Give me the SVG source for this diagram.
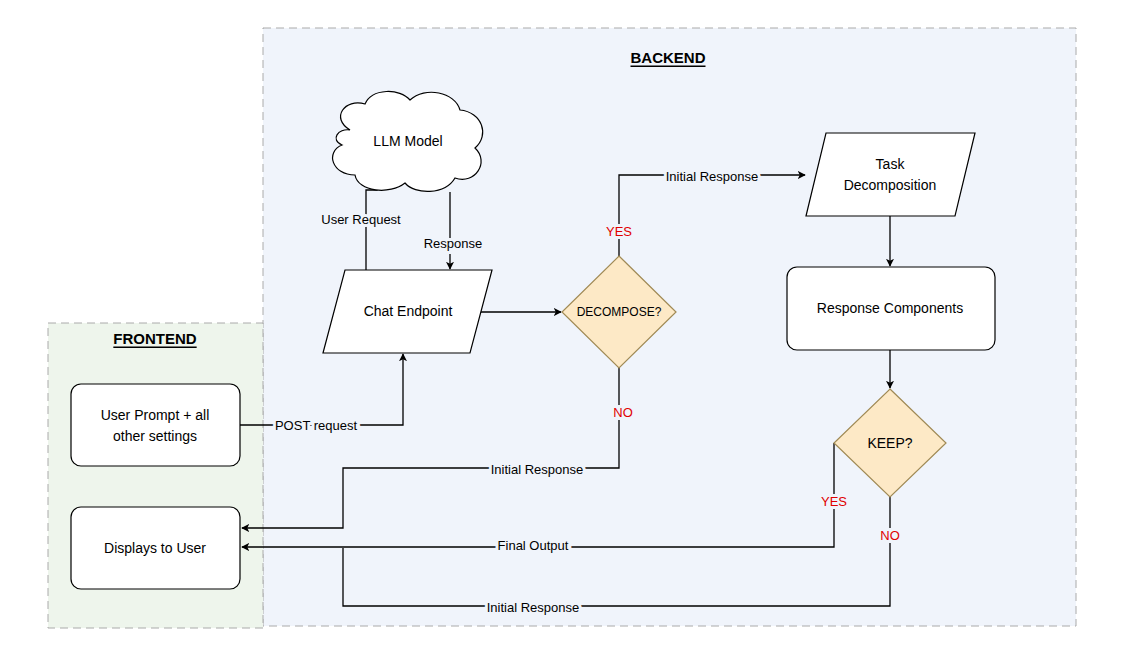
<svg xmlns="http://www.w3.org/2000/svg" width="1122" height="665" viewBox="0 0 1122 665">
<style>
text{font-family:"Liberation Sans",Arial,sans-serif;font-size:14px;fill:#000;text-anchor:middle;dominant-baseline:central}
.t{font-weight:bold;text-decoration:underline;font-size:15px}
.red{fill:#e00000}
.lbl{font-size:13px}
.node{fill:#fff;stroke:#000;stroke-width:1.2}
.dia{fill:#fde9c6;stroke:#a08a55;stroke-width:1.2}
.c{fill:none;stroke:#000;stroke-width:1.3;marker-end:url(#a)}
.cn{fill:none;stroke:#000;stroke-width:1.3}
.bg{fill:#fff}
</style>
<defs><marker id="a" viewBox="0 0 10 10" refX="9" refY="5" markerWidth="8" markerHeight="8" markerUnits="userSpaceOnUse" orient="auto"><path d="M0,0 L10,5 L0,10 L2.5,5 Z" fill="#000"/></marker></defs>
<rect width="1122" height="665" fill="#fff"/>
<g id="backend"><rect x="263" y="28" width="813" height="598" fill="#f0f4fb" stroke="#aaa" stroke-dasharray="8 5"/><text x="668" y="57" class="t">BACKEND</text></g>
<g id="frontend"><rect x="48" y="323" width="215" height="305" fill="#eef5ec" stroke="#aaa" stroke-dasharray="8 5"/><text x="155" y="338" class="t">FRONTEND</text></g>
<g id="connectors">
<path class="c" d="M366 270V190H377V175"/>
<path class="c" d="M450 192V269"/>
<path class="c" d="M480 312H561"/>
<path class="c" d="M619 256V175H805"/>
<path class="c" d="M619 368V468H343V528H242"/>
<path class="c" d="M240 425H403V354"/>
<path class="c" d="M890 216V266"/>
<path class="c" d="M890 350V388"/>
<path class="c" d="M834 443V547H242"/>
<path class="cn" d="M890 497V606H343V548"/>
<text x="361" y="219" class="lbl" style="paint-order:stroke" stroke="#f0f4fb" stroke-width="6">User Request</text>
<text x="453" y="243" class="lbl" style="paint-order:stroke" stroke="#f0f4fb" stroke-width="6">Response</text>
<text x="712" y="176" class="lbl" style="paint-order:stroke" stroke="#f0f4fb" stroke-width="6">Initial Response</text>
<text x="619" y="231" class="lbl red" style="paint-order:stroke" stroke="#f0f4fb" stroke-width="6">YES</text>
<text x="623" y="412" class="lbl red" style="paint-order:stroke" stroke="#f0f4fb" stroke-width="6">NO</text>
<text x="537" y="469" class="lbl" style="paint-order:stroke" stroke="#f0f4fb" stroke-width="6">Initial Response</text>
<text x="316" y="425" class="lbl" style="paint-order:stroke" stroke="#f0f4fb" stroke-width="6">POST request</text>
<text x="834" y="501" class="lbl red" style="paint-order:stroke" stroke="#f0f4fb" stroke-width="6">YES</text>
<text x="890" y="535" class="lbl red" style="paint-order:stroke" stroke="#f0f4fb" stroke-width="6">NO</text>
<text x="533" y="545" class="lbl" style="paint-order:stroke" stroke="#f0f4fb" stroke-width="6">Final Output</text>
<text x="533" y="607" class="lbl" style="paint-order:stroke" stroke="#f0f4fb" stroke-width="6">Initial Response</text>
</g>
<g id="llm"><path class="node" d="M350 130C330 118 345 98 365 104C372 88 400 88 410 100C425 86 455 92 460 110C482 112 490 135 475 148C490 162 475 185 455 178C445 195 415 195 405 183C390 195 358 192 355 175C332 175 325 152 342 145C330 140 338 128 350 130Z"/><text x="408" y="141">LLM Model</text></g>
<g id="chat"><polygon class="node" points="345,270 492,270 470,353 323,353"/><text x="408" y="311">Chat Endpoint</text></g>
<g id="decompose"><polygon class="dia" points="619,256 676,312 619,368 562,312"/><text x="619" y="312" style="font-size:12px">DECOMPOSE?</text></g>
<g id="task"><polygon class="node" points="826,133 975,133 955,216 806,216"/><text x="890" y="164">Task</text><text x="890" y="185">Decomposition</text></g>
<g id="components"><rect class="node" x="787" y="267" width="208" height="83" rx="10"/><text x="890" y="308">Response Components</text></g>
<g id="keep"><polygon class="dia" points="890,389 946,443 890,497 834,443"/><text x="890" y="443">KEEP?</text></g>
<g id="prompt"><rect class="node" x="71" y="384" width="169" height="82" rx="10"/><text x="155" y="415">User Prompt + all</text><text x="155" y="436">other settings</text></g>
<g id="display"><rect class="node" x="71" y="507" width="169" height="82" rx="10"/><text x="155" y="548">Displays to User</text></g>
</svg>
